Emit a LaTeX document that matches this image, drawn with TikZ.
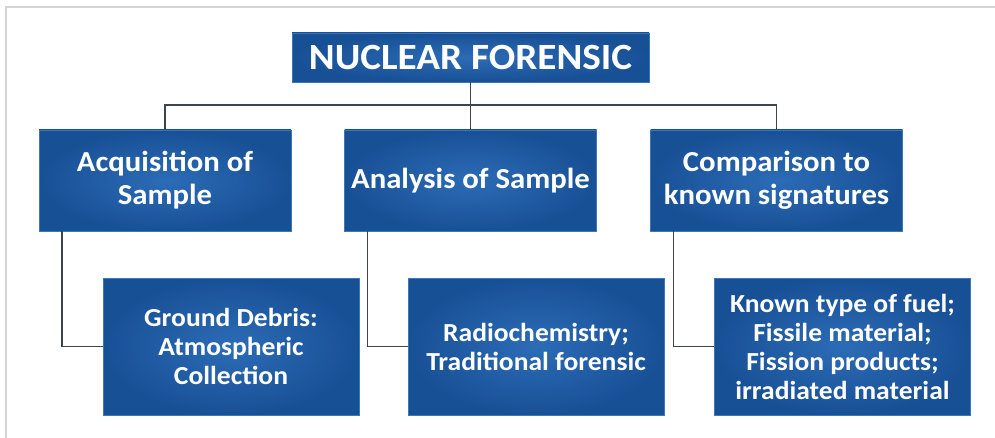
\documentclass[tikz,border=0pt]{standalone}
\usepackage{fontspec}
\setmainfont{Carlito}[FakeStretch=1.06]
\usepackage{tikz}
\usetikzlibrary{calc, positioning}
\definecolor{boxinner}{RGB}{44,108,182}
\definecolor{boxouter}{RGB}{24,80,150}
\definecolor{boxedge}{RGB}{58,118,188}
\definecolor{linkgray}{RGB}{62,68,76}
\definecolor{framegray}{RGB}{212,212,212}
\tikzset{
  blockbase/.style={rectangle, inner color=boxinner, outer color=boxouter,
    draw=boxedge, line width=0.8pt, text=white, align=center,
    font=\bfseries, inner sep=0pt},
  titlebox/.style={blockbase, minimum width=357pt, minimum height=49pt,
    font=\fontsize{37}{40}\selectfont\bfseries},
  stagebox/.style={blockbase, minimum width=252pt, minimum height=101pt,
    font=\fontsize{29}{33}\selectfont\bfseries},
  leafbox/.style={blockbase, minimum width=256pt, minimum height=137pt,
    font=\fontsize{26}{29}\selectfont\bfseries},
  link/.style={draw=linkgray, line width=1.6pt}
}

\begin{document}
\begin{tikzpicture}[x=1pt, y=-1pt]
    \useasboundingbox (0,0) rectangle (995,438);
    % frame
    \draw[framegray, line width=1.6pt] (6,438) -- (6,7) -- (995,7);

    % boxes
    \node[titlebox] (nuc) at (470.5,57.5) {NUCLEAR FORENSIC};
    \node[stagebox] (acq) at (165,180.5) {Acquisition of\\Sample};
    \node[stagebox] (ana) at (470.5,180.5) {Analysis of Sample};
    \node[stagebox] (cmp) at (776.5,180.5) {Comparison to\\known signatures};
    \node[leafbox] (gnd) at (231,346.5) {Ground Debris:\\Atmospheric\\Collection};
    \node[leafbox] (rad) at (536,346.5) {Radiochemistry;\\Traditional forensic};
    \node[leafbox] (fuel) at (842.5,346.5) {Known type of fuel;\\Fissile material;\\Fission products;\\irradiated material};

    % connectors
    \coordinate (bar) at (470.5,105);
    \draw[link] (nuc.south) -- (ana.north);
    \draw[link] (acq.north) |- (bar) -| (cmp.north);
    \draw[link] ([xshift=-103pt]acq.south) |- (gnd.west);
    \draw[link] ([xshift=-103pt]ana.south) |- (rad.west);
    \draw[link] ([xshift=-103pt]cmp.south) |- (fuel.west);
\end{tikzpicture}
\end{document}
